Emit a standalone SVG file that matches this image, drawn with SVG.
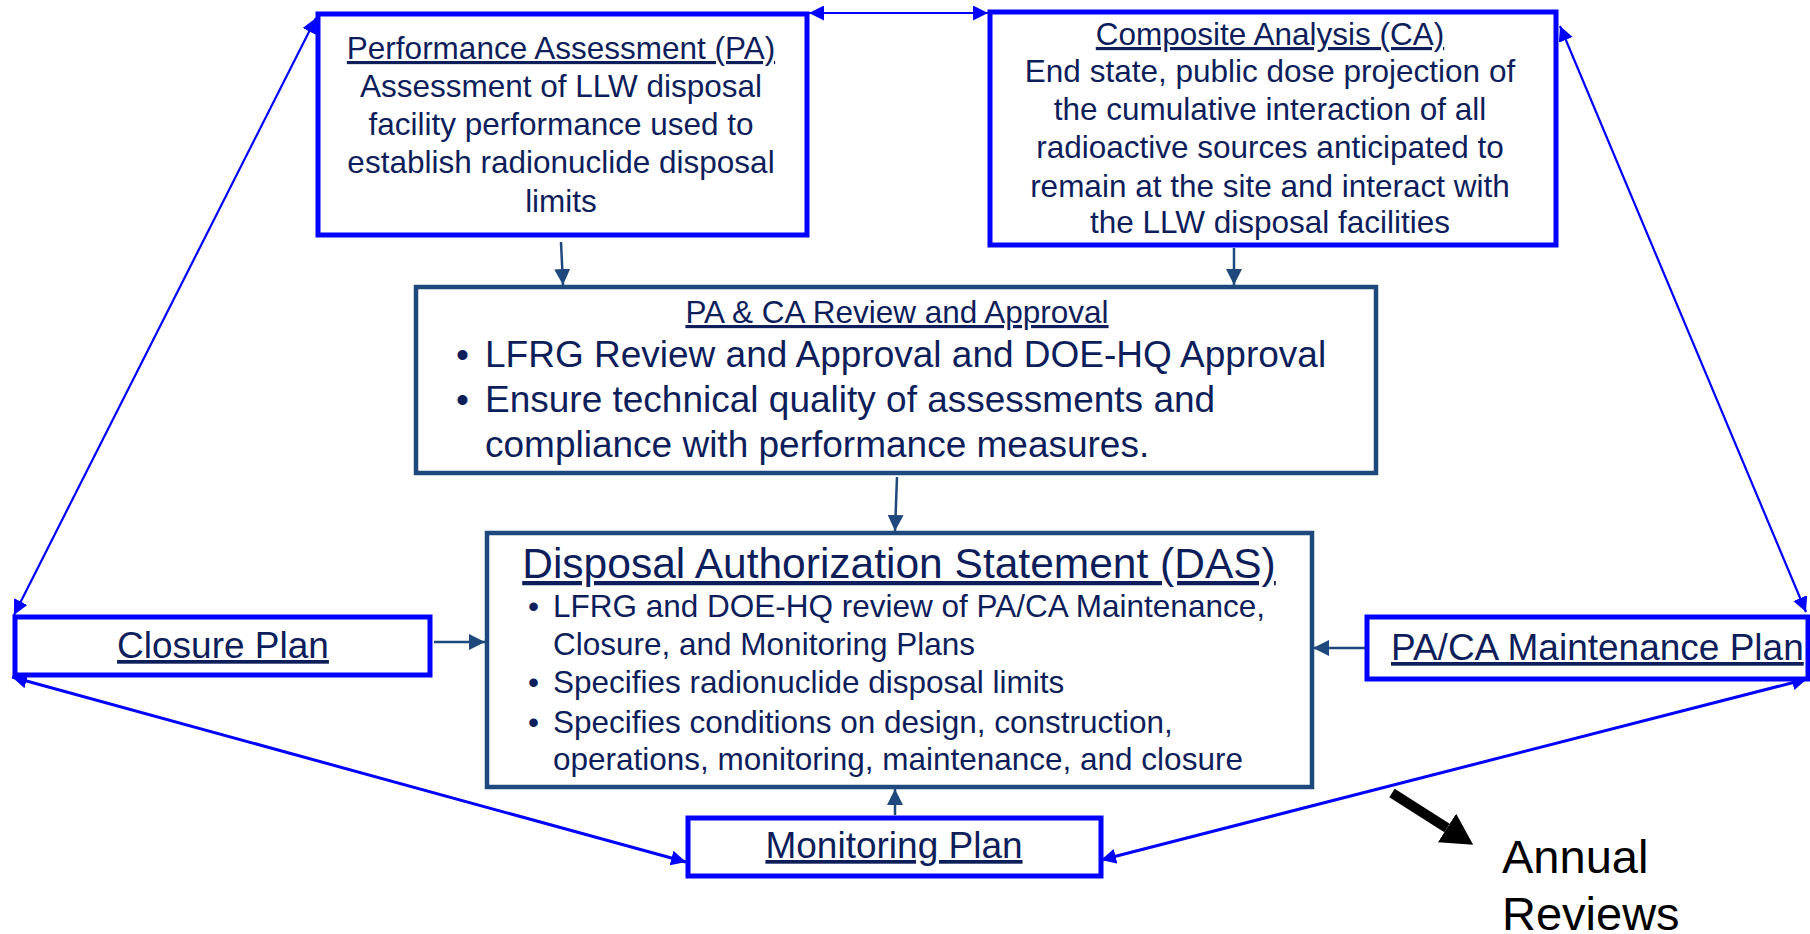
<svg xmlns="http://www.w3.org/2000/svg" width="1810" height="934" viewBox="0 0 1810 934">
<style>
  text { font-family: "Liberation Sans", Arial, sans-serif; fill: #0E1E5B; }
  .u { text-decoration: underline; }
  .c { text-anchor: middle; }
  .f31 { font-size: 31.5px; }
  .f37 { font-size: 37px; }
  .f42 { font-size: 42.5px; }
  .blueBox { fill: #FFFFFF; stroke: #0000FF; stroke-width: 5; }
  .navyBox { fill: #FFFFFF; stroke: #1F497D; stroke-width: 4.5; }
  .bl { stroke: #0000FF; stroke-width: 2.2; fill: none; }
  .bl3 { stroke: #0000FF; stroke-width: 3; fill: none; }
  .nv { stroke: #1F497D; stroke-width: 2.5; fill: none; }
</style>
<defs>
  <marker id="ab" markerUnits="userSpaceOnUse" markerWidth="15" markerHeight="15" refX="15" refY="7.5" orient="auto-start-reverse">
    <path d="M0,0 L15,7.5 L0,15 z" fill="#0000FF"/>
  </marker>
  <marker id="an" markerUnits="userSpaceOnUse" markerWidth="16" markerHeight="16" refX="16" refY="8" orient="auto">
    <path d="M0,0 L16,8 L0,16 z" fill="#1F497D"/>
  </marker>
  <marker id="ak" markerUnits="userSpaceOnUse" markerWidth="32" markerHeight="34" refX="0" refY="17" orient="auto">
    <path d="M0,0 L31,17 L0,34 z" fill="#000000"/>
  </marker>
</defs>
<rect width="1810" height="934" fill="#FFFFFF"/>

<g id="connectors">
  <line class="bl" x1="809" y1="13" x2="988" y2="13" marker-start="url(#ab)" marker-end="url(#ab)"/>
  <line class="bl" x1="316" y1="18" x2="14" y2="615" marker-start="url(#ab)" marker-end="url(#ab)"/>
  <line class="bl" x1="1560" y1="26" x2="1806" y2="612" marker-start="url(#ab)" marker-end="url(#ab)"/>
  <line class="bl3" x1="12" y1="677" x2="686" y2="862" marker-start="url(#ab)" marker-end="url(#ab)"/>
  <line class="bl3" x1="1807" y1="679" x2="1101" y2="860" marker-start="url(#ab)" marker-end="url(#ab)"/>
  <line class="nv" x1="561" y1="242" x2="563" y2="285" marker-end="url(#an)"/>
  <line class="nv" x1="1234" y1="248" x2="1234" y2="285" marker-end="url(#an)"/>
  <line class="nv" x1="897" y1="477" x2="895" y2="531" marker-end="url(#an)"/>
  <line class="nv" x1="434" y1="642" x2="485" y2="642" marker-end="url(#an)"/>
  <line class="nv" x1="1365" y1="648" x2="1313" y2="648" marker-end="url(#an)"/>
  <line class="nv" x1="895" y1="815" x2="895" y2="789" marker-end="url(#an)"/>
  <line x1="1392" y1="793" x2="1447" y2="828" stroke="#000000" stroke-width="10" marker-end="url(#ak)"/>
</g>

<g id="pa">
  <rect class="blueBox" x="318" y="14" width="489" height="221"/>
  <text class="f31 c u" x="561" y="59">Performance Assessment (PA)</text>
  <text class="f31 c" x="561" y="97">Assessment of LLW disposal</text>
  <text class="f31 c" x="561" y="135">facility performance used to</text>
  <text class="f31 c" x="561" y="173">establish radionuclide disposal</text>
  <text class="f31 c" x="561" y="212">limits</text>
</g>

<g id="ca">
  <rect class="blueBox" x="990" y="12" width="566" height="233"/>
  <text class="f31 c u" x="1270" y="45">Composite Analysis (CA)</text>
  <text class="f31 c" x="1270" y="82">End state, public dose projection of</text>
  <text class="f31 c" x="1270" y="120">the cumulative interaction of all</text>
  <text class="f31 c" x="1270" y="158">radioactive sources anticipated to</text>
  <text class="f31 c" x="1270" y="197">remain at the site and interact with</text>
  <text class="f31 c" x="1270" y="233">the LLW disposal facilities</text>
</g>

<g id="review">
  <rect class="navyBox" x="416" y="287" width="960" height="186"/>
  <text class="f31 c u" x="897" y="323">PA &amp; CA Review and Approval</text>
  <text class="f37" x="456" y="367">•</text>
  <text class="f37" x="485" y="367">LFRG Review and Approval and DOE-HQ Approval</text>
  <text class="f37" x="456" y="412">•</text>
  <text class="f37" x="485" y="412">Ensure technical quality of assessments and</text>
  <text class="f37" x="485" y="457">compliance with performance measures.</text>
</g>

<g id="das">
  <rect class="navyBox" x="487" y="533" width="825" height="254"/>
  <text class="f42 c u" x="899" y="578">Disposal Authorization Statement (DAS)</text>
  <text class="f31" x="528" y="617">•</text>
  <text class="f31" x="553" y="617">LFRG and DOE-HQ review of PA/CA Maintenance,</text>
  <text class="f31" x="553" y="655">Closure, and Monitoring Plans</text>
  <text class="f31" x="528" y="693">•</text>
  <text class="f31" x="553" y="693">Specifies radionuclide disposal limits</text>
  <text class="f31" x="528" y="733">•</text>
  <text class="f31" x="553" y="733">Specifies conditions on design, construction,</text>
  <text class="f31" x="553" y="770">operations, monitoring, maintenance, and closure</text>
</g>

<g id="closure">
  <rect class="blueBox" x="15" y="617" width="415" height="58"/>
  <text class="f37 c u" x="223" y="658">Closure Plan</text>
</g>

<g id="maintenance">
  <rect class="blueBox" x="1367" y="617" width="441" height="62"/>
  <text class="f37 u" x="1391" y="660">PA/CA Maintenance Plan</text>
</g>

<g id="monitoring">
  <rect class="blueBox" x="688" y="818" width="413" height="58"/>
  <text class="f37 c u" x="894" y="858">Monitoring Plan</text>
</g>

<g id="annual">
  <text x="1502" y="873" style="font-size:47px; fill:#000000">Annual</text>
  <text x="1502" y="930" style="font-size:47px; fill:#000000">Reviews</text>
</g>
</svg>
